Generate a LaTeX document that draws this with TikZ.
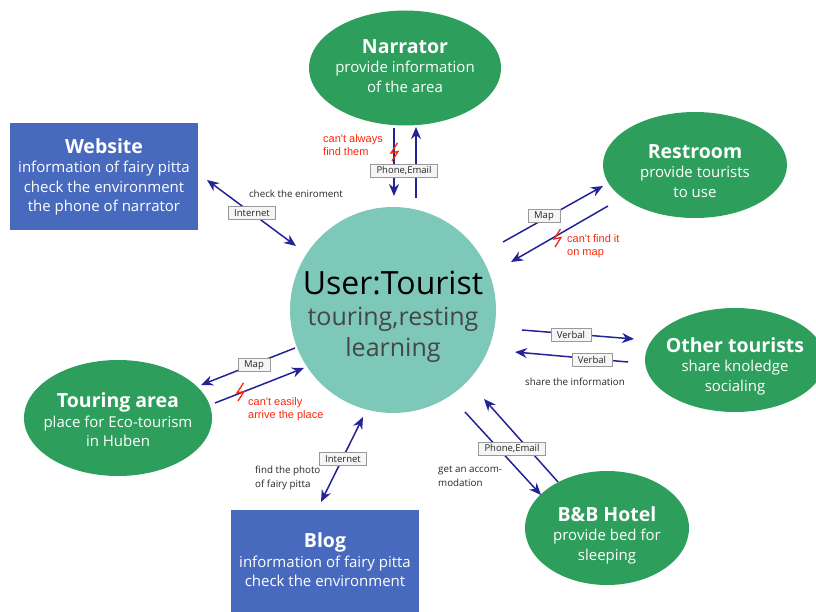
\documentclass[tikz,border=0pt]{standalone}
\usepackage{fontspec}
\setmainfont{Open Sans}
\newfontfamily\redfont{Liberation Sans}
\usetikzlibrary{shapes.geometric,arrows.meta}
\definecolor{tealc}{RGB}{126,200,186}
\definecolor{greenc}{RGB}{46,158,92}
\definecolor{bluec}{RGB}{72,106,190}
\definecolor{arrc}{RGB}{35,35,150}
\definecolor{redc}{RGB}{250,40,10}
\definecolor{subc}{RGB}{70,70,70}
\tikzset{
  oval/.style={ellipse, fill=greenc, draw=none, inner sep=0},
  panel/.style={rectangle, fill=bluec, draw=none, inner sep=0},
  wtxt/.style={text=white, align=center, inner sep=0, font=\fontsize{15}{19.5}\selectfont},
  arr/.style={draw=arrc, line width=1.5, -{Stealth[length=12,width=10]}},
  darr/.style={draw=arrc, line width=1.5, {Stealth[length=12,width=10]}-{Stealth[length=12,width=10]}},
  tag/.style={draw=gray!80, fill=gray!8, line width=0.6, inner xsep=6, inner ysep=1.5, minimum height=13, font=\fontsize{9.5}{10}\selectfont, text=black!85},
  note/.style={inner sep=0, align=left, font=\fontsize{9.8}{13.5}\selectfont, text=black!85},
  rnote/.style={inner sep=0, align=left, font=\redfont\fontsize{11}{13}\selectfont, text=redc},
  bolt/.pic={\draw[redc, line width=1.3, line join=miter] (3.5,-9) -- (-3,1) -- (4,-0.5) -- (-2,9);}
}
\begin{document}
\begin{tikzpicture}[x=1pt,y=-1pt]
\useasboundingbox (0,0) rectangle (816,612);

% centre
\node[circle, fill=tealc, minimum size=206, inner sep=0] (ut) at (393,310) {};
\node[align=center, inner sep=0, font=\fontsize{25}{31}\selectfont] (utT) at (393,317)
  {{\fontsize{32}{32}\selectfont User:Tourist}\\
   {\color{subc}touring,resting}\\
   {\color{subc}learning}};

% ellipses
\node[oval, minimum width=192, minimum height=115] (narr) at (405,68) {};
\node[wtxt] (narrT) at (405,66) {{\fontsize{19.5}{22}\selectfont\bfseries Narrator}\\provide information\\of the area};

\node[oval, minimum width=184, minimum height=106] (rest) at (695,165) {};
\node[wtxt] (restT) at (695,171) {{\fontsize{19.5}{22}\selectfont\bfseries Restroom}\\provide tourists\\to use};

\node[oval, minimum width=180, minimum height=104] (oth) at (735,360) {};
\node[wtxt] (othT) at (735,366) {{\fontsize{19.5}{22}\selectfont\bfseries Other tourists}\\share knoledge\\socialing};

\node[oval, minimum width=164, minimum height=114] (bnb) at (607,528) {};
\node[wtxt] (bnbT) at (607,535) {{\fontsize{19.5}{22}\selectfont\bfseries B\&B Hotel}\\provide bed for\\sleeping};

\node[oval, minimum width=188, minimum height=116] (tour) at (118,418) {};
\node[wtxt] (tourT) at (118,420) {{\fontsize{19.5}{22}\selectfont\bfseries Touring area}\\place for Eco-tourism\\in Huben};

% panels
\node[panel, minimum width=188, minimum height=107] (web) at (104,176.5) {};
\node[wtxt] (webT) at (104,177) {{\fontsize{19.5}{22}\selectfont\bfseries Website}\\information of fairy pitta\\check the environment\\the phone of narrator};

\node[panel, minimum width=188, minimum height=106] (blog) at (325,563) {};
\node[wtxt] (blogT) at (325,560) {{\fontsize{19.5}{22}\selectfont\bfseries Blog}\\information of fairy pitta\\check the environment};

% Narrator connectors
\coordinate (n1s) at (394,128); \coordinate (n1e) at (394,196);
\coordinate (n2s) at (416,198); \coordinate (n2e) at (416,127);
\draw[arr] (n1s) -- (n1e);
\draw[arr] (n2s) -- (n2e);
\node[tag] (narrL) at (404,171) {Phone,Email};
\pic at (394,152) {bolt};
\node[rnote, anchor=north west] (narrR) at (323,134) {can't always\\find them};

% Website connector
\coordinate (w1s) at (207,180); \coordinate (w1e) at (296,246);
\draw[darr] (w1s) -- (w1e);
\node[tag] (webL) at (252,213) {Internet};
\node[note] (webN) at (296,194) {check the eniroment};

% Restroom connectors
\coordinate (r1s) at (503,242); \coordinate (r1e) at (603,186);
\coordinate (r2s) at (608,206); \coordinate (r2e) at (511,262);
\draw[arr] (r1s) -- (r1e);
\draw[arr] (r2s) -- (r2e);
\node[tag] (restL) at (544,216) {Map};
\pic at (557,238) {bolt};
\node[rnote, anchor=north west] (restR) at (567,234) {can't find it\\on map};

% Other tourists connectors
\coordinate (o1s) at (522,330); \coordinate (o1e) at (634,339);
\coordinate (o2s) at (628,362); \coordinate (o2e) at (515,352);
\draw[arr] (o1s) -- (o1e);
\draw[arr] (o2s) -- (o2e);
\node[tag] (othL1) at (571,335) {Verbal};
\node[tag] (othL2) at (592,360) {Verbal};
\node[note] (othN) at (575,382) {share the information};

% Touring area connectors
\coordinate (t1s) at (295,348); \coordinate (t1e) at (201,385);
\coordinate (t2s) at (215,403); \coordinate (t2e) at (304,368);
\draw[arr] (t1s) -- (t1e);
\draw[arr] (t2s) -- (t2e);
\node[tag] (tourL) at (254,365) {Map};
\pic at (240,392) {bolt};
\node[rnote, anchor=north west] (tourR) at (248,397) {can't easily\\arrive the place};

% Blog connector
\coordinate (b1s) at (363,417); \coordinate (b1e) at (321,502);
\draw[darr] (b1s) -- (b1e);
\node[tag] (blogL) at (343,459) {Internet};
\node[note, anchor=north west] (blogN) at (255,466) {find the photo\\of fairy pitta};

% B&B connectors
\coordinate (h1s) at (465,412); \coordinate (h1e) at (541,495);
\coordinate (h2s) at (558,482); \coordinate (h2e) at (484,399);
\draw[arr] (h1s) -- (h1e);
\draw[arr] (h2s) -- (h2e);
\node[tag] (bnbL) at (512,449) {Phone,Email};
\node[note, anchor=north west] (bnbN) at (438,466) {get an accom-\\modation};
\end{tikzpicture}
\end{document}
